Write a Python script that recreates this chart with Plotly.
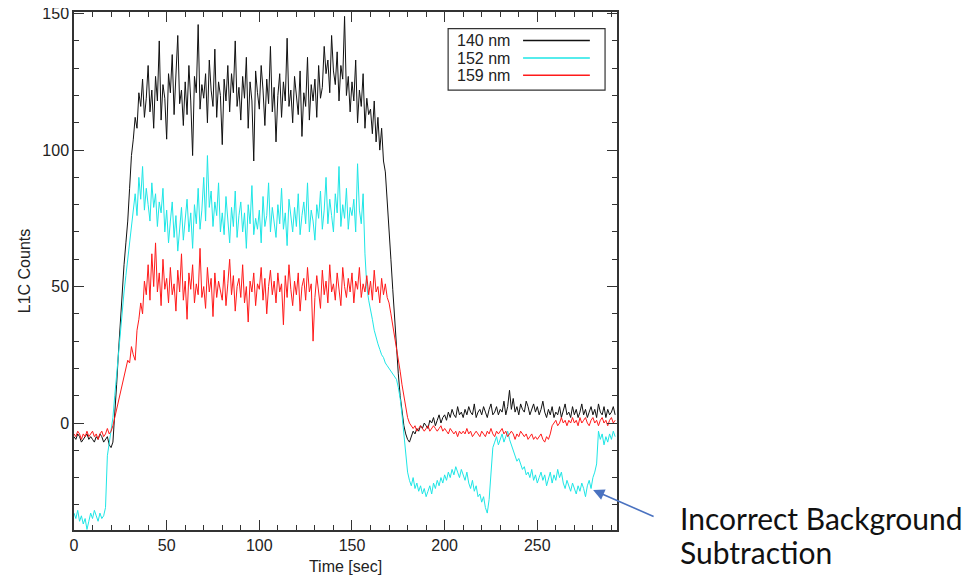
import plotly.graph_objects as go

# time axis, 1 s samples
time_sec = list(range(0, 293))

# L1C counts, 1 value per second
counts_140 = [
    -5, -6, -4, -5, -7, -6, -5, -4, -6, -5,
    -6, -7, -5, -6, -4, -5, -7, -6, -5, -8,
    -9, -7, 2, 14, 26, 38, 48, 58, 66, 74,
    86, 98, 104, 112, 108, 121, 116, 126, 112, 119,
    131, 114, 122, 108, 127, 118, 140, 111, 124, 119,
    104, 128, 121, 135, 113, 126, 142, 117, 122, 109,
    125, 113, 131, 118, 98, 127, 121, 146, 115, 124,
    119, 128, 110, 133, 122, 116, 137, 112, 125, 120,
    102, 126, 118, 131, 114, 128, 121, 140, 116, 123,
    111, 127, 119, 134, 108, 125, 118, 96, 129, 121,
    115, 131, 122, 109, 126, 117, 138, 114, 123, 103,
    120, 128, 112, 125, 118, 141, 116, 122, 110, 127,
    119, 113, 129, 105, 121, 116, 134, 111, 124, 118,
    126, 112, 131, 119, 123, 138, 128, 133, 121, 142,
    129, 124, 136, 118, 131, 126, 149, 120, 127, 114,
    125, 118, 133, 110, 122, 116, 128, 108, 119, 113,
    115, 106, 118, 103, 112, 100, 108, 96, 92, 80,
    72, 60, 49, 38, 28, 18, 10, 4, -1, -4,
    -6, -7, -5, -3, -4, -2, -3, -1, -2, 0,
    -1, -2, 1, 0, 2, -1, 1, 3, 0, 2,
    3, 1, 4, 2, 5, 3, 2, 6, 3, 4,
    2, 5, 3, 6, 4, 3, 7, 2, 4, 5,
    3, 6, 4, 2, 5, 7, 3, 4, 6, 3,
    5, 4, 8, 3, 6, 12, 5, 9, 4, 6,
    3, 7, 5, 4, 8, 6, 3, 5, 7, 4,
    6, 3, 5, 8, 4, 2, 5, 3, 6, 2,
    4, 3, 6, 2, 5, 7, 3, 4, 2, 6,
    3, 5, 2, 4, 7, 3, 5, 2, 4, 6,
    3, 5, 2, 7, 4, 3, 6, 2, 5, 3,
    4, 6, 3,
]

counts_152 = [
    -33, -35, -32, -36, -34, -37, -35, -39, -36, -33,
    -35, -32, -34, -36, -33, -35, -34, -31, -12, -7,
    -4, 2, 10, 18, 26, 34, 42, 48, 54, 60,
    66, 72, 78, 84, 76, 90, 82, 94, 78, 86,
    80, 74, 88, 79, 84, 72, 81, 77, 86, 70,
    78, 66, 74, 81, 68, 76, 63, 72, 79, 67,
    75, 82, 70, 77, 64, 80, 73, 86, 71, 78,
    90, 74, 98, 79, 85, 72, 81, 76, 88, 70,
    77, 69, 83, 74, 66, 79, 72, 85, 68, 76,
    81, 70, 77, 64, 80, 73, 87, 69, 75, 71,
    78, 66, 83, 72, 76, 88, 70, 79, 74, 68,
    80, 73, 86, 71, 77, 65, 82, 75, 70, 79,
    72, 84, 69, 76, 81, 73, 88, 70, 78, 74,
    67, 80, 75, 85, 71, 78, 90, 73, 82, 76,
    70, 84, 77, 94, 72, 80, 75, 86, 71, 79,
    76, 82, 70, 95, 78, 73, 84, 62, 50, 45,
    42, 38, 34, 31, 29, 27, 25, 24, 22, 21,
    20, 19, 18, 17, 16, 13, 9, 3, -4, -12,
    -18, -21, -23, -20, -24, -22, -25, -23, -26, -24,
    -27, -25, -23, -26, -22, -24, -21, -23, -20, -22,
    -19, -21, -18, -20, -17, -19, -16, -18, -20, -17,
    -19, -21, -18, -22, -24, -21, -25, -23, -27, -26,
    -29, -27, -31, -33, -28, -18, -9, -7, -5, -8,
    -6, -4, -7, -5, -3, -6, -8, -10, -12, -14,
    -13, -15, -17, -16, -19, -18, -20, -17, -21, -19,
    -22, -20, -18, -21, -19, -23, -20, -18, -22, -19,
    -21, -17, -20, -18, -22, -24, -21, -23, -25, -22,
    -24, -26, -23, -25, -22, -24, -27, -23, -21, -24,
    -20, -18, -15, -3, -6, -4, -8, -5, -7, -4,
    -6, -3, -5,
]

counts_159 = [
    -4, -5, -3, -4, -6, -4, -5, -3, -5, -4,
    -3, -5, -4, -6, -4, -3, -5, -4, -2, -4,
    -3, -1, 2, 6, 9, 12, 15, 18, 20, 23,
    22, 28, 25, 23, 34, 38, 44, 40, 52, 47,
    58, 45, 62, 50, 66, 48, 55, 43, 60, 49,
    53, 44, 57, 47, 51, 41, 56, 48, 62, 45,
    52, 38, 55, 49, 58, 44, 51, 47, 64, 46,
    50, 42, 57, 48, 53, 39, 55, 46, 52, 49,
    45, 56, 43, 51, 60, 47, 54, 41, 50, 53,
    46, 58, 44, 50, 37, 52, 48, 55, 43, 51,
    49, 57, 45, 53, 40, 50, 56, 47, 52, 44,
    55, 48, 51, 36, 54, 46, 58, 49, 43, 52,
    47, 55, 41, 50, 53, 45, 57, 48, 51, 30,
    46, 54, 49, 42, 56, 47, 52, 44, 58, 48,
    51, 45, 55, 49, 43, 57, 50, 46, 53, 48,
    55, 44, 52, 49, 57, 46, 51, 48, 54, 47,
    52, 45, 56, 48, 50, 44, 53, 47, 51, 46,
    44, 40, 36, 32, 27, 23, 19, 14, 10, 6,
    2, 0, -1, -2, -1, -3, -2, -1, -2, -3,
    -2, -1, -3, -2, -1, -2, -3, -2, -1, -3,
    -2, -3, -4, -2, -3, -4, -3, -5, -3, -4,
    -3, -4, -2, -4, -3, -5, -4, -3, -4, -5,
    -3, -4, -5, -3, -4, -2, -4, -5, -3, -4,
    -3, -2, -4, -3, -5, -4, -3, -4, -6, -4,
    -5, -3, -4, -5, -4, -6, -5, -4, -6, -5,
    -6, -5, -4, -6, -7, -5, -6, -4, -1, 0,
    1, -1, 0, 2, 0, 1, -1, 1, 0, 2,
    0, 1, -1, 2, 0, 1, 2, 0, -1, 1,
    2, 0, 1, -1, 1, 2, 0, 1, -1, 1,
    2, 0, 1,
]

series_names = ["140 nm", "152 nm", "159 nm"]
series_colors = ["#111111", "#1ee6e6", "#ff1a1a"]
series_values = [counts_140, counts_152, counts_159]

fig = go.Figure()
for name, color, vals in zip(series_names, series_colors, series_values):
    fig.add_trace(go.Scatter(x=time_sec, y=vals, mode="lines", name=name,
                             line=dict(color=color, width=1), showlegend=False))

axis_style = dict(
    showgrid=False, zeroline=False, showline=True, linecolor="#333333", linewidth=1.5,
    mirror="ticks", ticks="inside", ticklen=10, tickwidth=1.2, tickcolor="#333333",
    tickfont=dict(size=16, color="#222222"), ticklabeloverflow="allow", automargin=False,
    minor=dict(ticks="inside", ticklen=5, tickwidth=1, tickcolor="#333333", dtick=10),
)

fig.update_xaxes(range=[0, 293], dtick=50, title=dict(text="Time [sec]", font=dict(size=16, color="#222222"), standoff=11), **axis_style)
fig.update_yaxes(range=[-39.2, 150.6], dtick=50, title=dict(text="L1C Counts", font=dict(size=16, color="#222222"), standoff=8), **axis_style)

# legend box drawn in the top right, sample line to the right of the label
fig.add_shape(type="rect", xref="paper", yref="paper", x0=0.689, x1=0.978, y0=0.849, y1=0.968,
              line=dict(color="#333333", width=1.2), fillcolor="white")
legend_rows = [0.945, 0.911, 0.878]
for name, color, yy in zip(series_names, series_colors, legend_rows):
    fig.add_shape(type="line", xref="paper", yref="paper", x0=0.827, x1=0.950, y0=yy, y1=yy,
                  line=dict(color=color, width=1.5))
    fig.add_annotation(x=0.702, y=yy, xref="paper", yref="paper", text=name, showarrow=False,
                       xanchor="left", yanchor="middle", font=dict(size=16, color="#222222"))

# note about the cyan curve
fig.add_annotation(x=0.956, y=0.077, xref="paper", yref="paper", text="", showarrow=True,
                   ax=62, ay=27, arrowhead=2, arrowsize=1.4, arrowwidth=1.6, arrowcolor="#4a72c0")
note_lines = ["Incorrect Background", "Subtraction"]
for txt, yy in zip(note_lines, [0.024, -0.043]):
    fig.add_annotation(x=1.112, y=yy, xref="paper", yref="paper", text=txt, showarrow=False,
                       xanchor="left", yanchor="middle",
                       font=dict(family="Lato", size=30, color="#111111"))

# page body adds 8 px, so figure is 8 px smaller than the window
fig.update_layout(
    width=972, height=567,
    margin=dict(l=66, r=363, t=4, b=45),
    paper_bgcolor="white", plot_bgcolor="white",
    font=dict(family="Liberation Sans, Arial, sans-serif"),
)

fig.write_html("out.html")
